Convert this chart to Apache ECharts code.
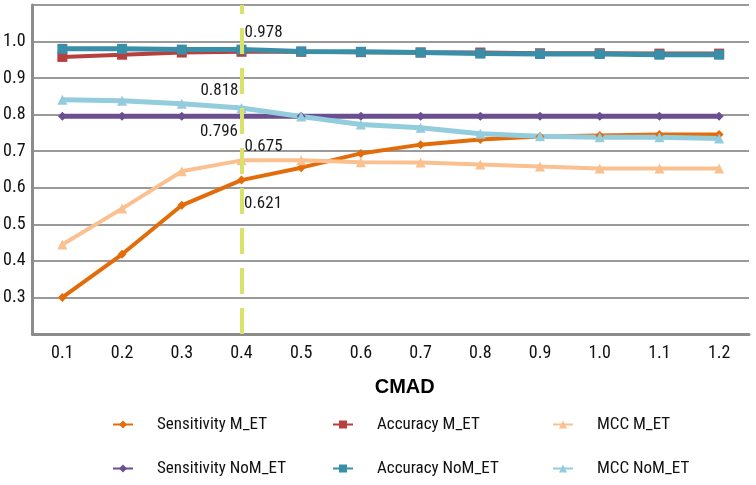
<!DOCTYPE html>
<html>
<head>
<meta charset="utf-8">
<script src="https://cdn.jsdelivr.net/npm/echarts@6/dist/echarts.min.js"></script>
<style>
html,body{margin:0;padding:0;background:#fff;}
#chart{width:756px;height:485px;}
</style>
</head>
<body>
<div id="chart"></div>
<script>
// ---- data ----
const categories = ['0.1','0.2','0.3','0.4','0.5','0.6','0.7','0.8','0.9','1.0','1.1','1.2'];
const sensitivityM = [0.300,0.418,0.552,0.621,0.655,0.694,0.718,0.732,0.740,0.743,0.746,0.746];
const accuracyM    = [0.958,0.964,0.970,0.972,0.972,0.971,0.970,0.970,0.968,0.968,0.967,0.967];
const mccM         = [0.445,0.543,0.645,0.675,0.675,0.670,0.669,0.664,0.658,0.653,0.653,0.653];
const sensitivityNoM = [0.796,0.796,0.796,0.796,0.796,0.796,0.796,0.796,0.796,0.796,0.796,0.796];
const accuracyNoM  = [0.980,0.980,0.978,0.978,0.973,0.972,0.970,0.967,0.966,0.966,0.964,0.964];
const mccNoM       = [0.841,0.838,0.830,0.818,0.795,0.773,0.764,0.748,0.741,0.738,0.738,0.735];
const seriesNames = ['Sensitivity M_ET','Accuracy M_ET','MCC M_ET','Sensitivity NoM_ET','Accuracy NoM_ET','MCC NoM_ET'];
const markCategory = '0.4';
const yTicks = [0.3,0.4,0.5,0.6,0.7,0.8,0.9,1.0];

const NARROW = "Roboto, 'Liberation Sans', sans-serif";
const chart = echarts.init(document.getElementById('chart'), null, {renderer:'canvas'});
const markIdx = categories.indexOf(markCategory);

function withLabel(arr, labelCfg){
  return arr.map((v,i)=> i===markIdx && labelCfg ? {value:v, label:Object.assign({
      show:true, color:'#1a1a1a', fontFamily:NARROW, fontStyle:'condensed', fontSize:17,
      formatter:(p)=>Number(p.value).toFixed(3)}, labelCfg)} : v);
}

function lineSeries(name, data, color, symbol, symbolSize, width, labelCfg){
  return {
    name, type:'line', data:withLabel(data,labelCfg), symbol, symbolSize,
    showAllSymbol:true,
    lineStyle:{color, width}, itemStyle:{color},
    emphasis:{disabled:true}, animation:false
  };
}

const series = [
  lineSeries(seriesNames[0], sensitivityM, '#E36C0A', 'diamond', 9, 4, {position:'right', distance:0, offset:[-2,24]}),
  lineSeries(seriesNames[1], accuracyM, '#B5403D', 'rect', 10, 4, null),
  lineSeries(seriesNames[2], mccM, '#FAC090', 'triangle', 10, 4, {position:'right', distance:0, offset:[-2,-14]}),
  lineSeries(seriesNames[3], sensitivityNoM, '#6B4F91', 'diamond', 9, 5, {position:'left', distance:0, offset:[1,16]}),
  lineSeries(seriesNames[4], accuracyNoM, '#3A8FA8', 'rect', 10, 5, {position:'right', distance:0, offset:[-2,-17]}),
  lineSeries(seriesNames[5], mccNoM, '#93CDDD', 'triangle', 10, 5, {position:'left', distance:0, offset:[2,-17]}),
  {
    type:'line', data:[], z:10, animation:false,
    markLine:{
      silent:true, symbol:['none','none'], animation:false,
      label:{show:false},
      lineStyle:{color:'#D9E26A', width:4, type:[26,14]},
      data:[{xAxis:markCategory}]
    }
  }
];

function legendCol(left, names){
  return {
    left, top:411, orient:'vertical', itemGap:27, itemWidth:20, itemHeight:10,
    data:names, selectedMode:false,
    textStyle:{fontFamily:NARROW, fontStyle:'condensed', fontSize:17, color:'#111', padding:[0,0,0,19]}
  };
}

chart.setOption({
  backgroundColor:'#fff',
  animation:false,
  grid:{left:29, right:7, top:5, bottom:151, containLabel:false},
  legend:[
    legendCol(107, [seriesNames[0], seriesNames[3]]),
    legendCol(327, [seriesNames[1], seriesNames[4]]),
    legendCol(547, [seriesNames[2], seriesNames[5]])
  ],
  xAxis:{
    type:'category', data:categories, boundaryGap:true,
    axisLine:{show:true, lineStyle:{color:'#8c8c8c', width:3}},
    axisTick:{show:false},
    axisLabel:{fontFamily:NARROW, fontStyle:'condensed', fontSize:18, color:'#111', margin:10},
    name:'CMAD', nameLocation:'middle', nameGap:43,
    nameTextStyle:{fontFamily:"'Liberation Sans', Arial, sans-serif", fontWeight:'bold', fontSize:20, color:'#000', padding:[0,0,0,28]},
    splitLine:{show:false}
  },
  yAxis:{
    type:'value', min:0.2, max:1.1, interval:0.1,
    axisLine:{show:true, lineStyle:{color:'#8c8c8c', width:3}},
    axisTick:{show:false},
    axisLabel:{fontFamily:NARROW, fontStyle:'condensed', fontSize:18, color:'#111', margin:7,
      formatter:(v)=>{ const r = Math.round(v*10)/10; return yTicks.some(t=>Math.abs(t-r)<1e-6) ? r.toFixed(1) : ''; }},
    splitLine:{show:true, lineStyle:{color:'#9a9a9a', width:2}}
  },
  series
});
</script>
</body>
</html>
